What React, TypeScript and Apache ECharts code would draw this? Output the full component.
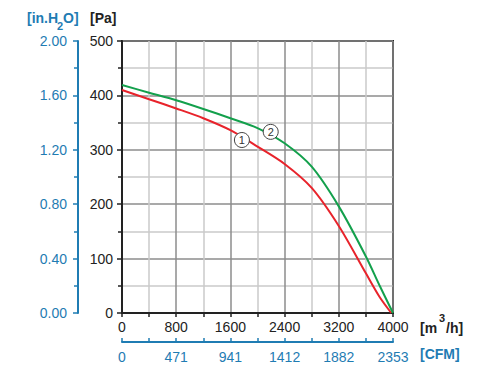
import React, { useEffect, useRef } from "react";
import * as echarts from "echarts";

// Flow axis (m³/h) ticks and the CFM equivalents shown on the second axis
const flowTicks = [0, 800, 1600, 2400, 3200, 4000];
const cfmLabels = ["0", "471", "941", "1412", "1882", "2353"];
// Pressure axes
const paTicks = [0, 100, 200, 300, 400, 500];
const inchLabels = ["0.00", "0.40", "0.80", "1.20", "1.60", "2.00"];

// Curve 1 (red)
const flow1 = [0, 400, 800, 1200, 1600, 2000, 2400, 2800, 3200, 3600, 3800, 3975];
const pa1 = [410, 393, 376, 358, 336, 306, 274, 230, 160, 73, 30, 0];
// Curve 2 (green)
const flow2 = [0, 400, 800, 1200, 1600, 2000, 2400, 2800, 3200, 3600, 3800, 4000];
const pa2 = [419, 405, 391, 375, 358, 340, 312, 269, 196, 104, 51, 0];

// Curve markers (data coordinates)
const marker1 = [1770, 318];
const marker2 = [2195, 333];

const BLUE = "#1f7cb3";
const BLACK = "#222";
const FONT = "'Liberation Sans', Arial, sans-serif";

export default function App() {
  const ref = useRef<HTMLDivElement>(null);
  useEffect(() => {
    if (!ref.current) return;
    const chart = echarts.init(ref.current, null, { renderer: "svg" });
    const pairs = (xs: number[], ys: number[]) => xs.map((x, i) => [x, ys[i]]);
    const markerStyle = (label: string, coord: number[]) => ({
      symbol: "circle",
      symbolSize: 15,
      silent: true,
      itemStyle: { color: "#fff", borderColor: "#444", borderWidth: 1 },
      label: { show: true, formatter: label, color: "#333", fontSize: 11, fontFamily: FONT, position: "inside" },
      data: [{ coord }],
    });
    chart.setOption({
      animation: false,
      textStyle: { fontFamily: FONT },
      grid: {
        left: 122,
        right: 106,
        top: 41,
        bottom: 65,
        show: true,
        borderColor: BLACK,
        borderWidth: 2,
        backgroundColor: "transparent",
      },
      xAxis: [
        {
          type: "value",
          min: flowTicks[0],
          max: flowTicks[flowTicks.length - 1],
          interval: 800,
          axisLine: { show: true, lineStyle: { color: BLACK, width: 2 } },
          axisTick: { show: true, length: 4, lineStyle: { color: BLACK, width: 1.5 } },
          minorTick: { show: true, splitNumber: 2, length: 4, lineStyle: { color: BLACK, width: 1.5 } },
          axisLabel: { color: BLACK, fontSize: 14, margin: 7, fontFamily: FONT, formatter: (v: number) => String(v) },
          splitLine: { show: true, lineStyle: { color: "#8c8c8c", width: 1.5 } },
          minorSplitLine: { show: true, lineStyle: { color: "#cacaca", width: 1.5 } },
        },
        {
          type: "value",
          position: "bottom",
          offset: 29,
          min: flowTicks[0],
          max: flowTicks[flowTicks.length - 1],
          interval: 800,
          axisLine: { show: true, onZero: false, lineStyle: { color: BLUE, width: 2 } },
          axisTick: { show: true, inside: true, length: 4, lineStyle: { color: BLUE, width: 1.5 } },
          minorTick: { show: true, splitNumber: 2, length: 4, lineStyle: { color: BLUE, width: 1.5 } },
          axisLabel: {
            color: BLUE,
            fontSize: 14,
            margin: 8,
            fontFamily: FONT,
            formatter: (v: number) => cfmLabels[flowTicks.indexOf(Math.round(v))] ?? "",
          },
          splitLine: { show: false },
        },
      ],
      yAxis: [
        {
          type: "value",
          min: paTicks[0],
          max: paTicks[paTicks.length - 1],
          interval: 100,
          axisLine: { show: true, lineStyle: { color: BLACK, width: 2 } },
          axisTick: { show: true, length: 5, lineStyle: { color: BLACK, width: 1.5 } },
          minorTick: { show: true, splitNumber: 2, length: 4, lineStyle: { color: BLACK, width: 1.5 } },
          axisLabel: { color: BLACK, fontSize: 14, margin: 9, fontFamily: FONT, formatter: (v: number) => String(v) },
          splitLine: { show: true, lineStyle: { color: "#8c8c8c", width: 1.5 } },
          minorSplitLine: { show: true, lineStyle: { color: "#cacaca", width: 1.5 } },
        },
        {
          type: "value",
          position: "left",
          offset: 44,
          min: paTicks[0],
          max: paTicks[paTicks.length - 1],
          interval: 100,
          axisLine: { show: true, onZero: false, lineStyle: { color: BLUE, width: 2 } },
          axisTick: { show: true, length: 5, lineStyle: { color: BLUE, width: 1.5 } },
          minorTick: { show: true, splitNumber: 2, length: 4, lineStyle: { color: BLUE, width: 1.5 } },
          axisLabel: {
            color: BLUE,
            fontSize: 14,
            margin: 11,
            fontFamily: FONT,
            formatter: (v: number) => inchLabels[paTicks.indexOf(Math.round(v))] ?? "",
          },
          splitLine: { show: false },
        },
      ],
      graphic: [
        { type: "text", left: 27, top: 11, style: { text: "[in.H", font: `bold 14px ${FONT}`, fill: BLUE } },
        { type: "text", left: 57, top: 20, style: { text: "2", font: `bold 11px ${FONT}`, fill: BLUE } },
        { type: "text", left: 63, top: 11, style: { text: "O]", font: `bold 14px ${FONT}`, fill: BLUE } },
        { type: "text", left: 90, top: 11, style: { text: "[Pa]", font: `bold 14px ${FONT}`, fill: BLACK } },
        { type: "text", left: 420, top: 321, style: { text: "[m", font: `bold 14px ${FONT}`, fill: BLACK } },
        { type: "text", left: 439, top: 312, style: { text: "3", font: `bold 11px ${FONT}`, fill: BLACK } },
        { type: "text", left: 446, top: 321, style: { text: "/h]", font: `bold 14px ${FONT}`, fill: BLACK } },
        { type: "text", left: 420, top: 347, style: { text: "[CFM]", font: `bold 14px ${FONT}`, fill: BLUE } },
      ],
      series: [
        {
          type: "line",
          name: "1",
          data: pairs(flow1, pa1),
          smooth: 0.3,
          showSymbol: false,
          lineStyle: { color: "#e8232b", width: 2 },
          markPoint: markerStyle("1", marker1),
        },
        {
          type: "line",
          name: "2",
          data: pairs(flow2, pa2),
          smooth: 0.3,
          showSymbol: false,
          lineStyle: { color: "#13a04c", width: 2 },
          markPoint: markerStyle("2", marker2),
        },
      ],
    });
    return () => chart.dispose();
  }, []);
  return (
    <div
      ref={ref}
      style={{ position: "absolute", left: 0, top: 0, width: 499, height: 378, background: "#fff" }}
    />
  );
}
